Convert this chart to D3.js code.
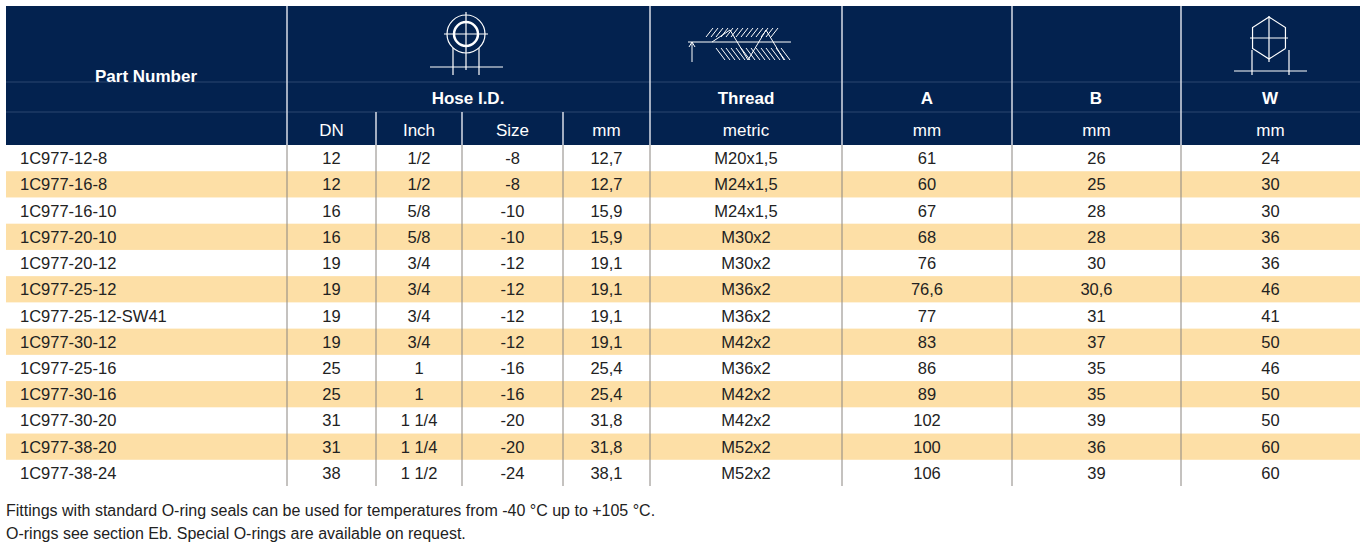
<!DOCTYPE html>
<html><head><meta charset="utf-8">
<script src="https://cdn.jsdelivr.net/npm/d3@7"></script>
<style>body{margin:0;background:#fff}text{font-family:"Liberation Sans",Arial,sans-serif}</style>
</head><body>
<svg id="c" width="1367" height="551"></svg>
<script>
// Table data
const partNumbers = ["1C977-12-8","1C977-16-8","1C977-16-10","1C977-20-10","1C977-20-12","1C977-25-12","1C977-25-12-SW41","1C977-30-12","1C977-25-16","1C977-30-16","1C977-30-20","1C977-38-20","1C977-38-24"];
const dn    = ["12","12","16","16","19","19","19","19","25","25","31","31","38"];
const inch  = ["1/2","1/2","5/8","5/8","3/4","3/4","3/4","3/4","1","1","1 1/4","1 1/4","1 1/2"];
const size  = ["-8","-8","-10","-10","-12","-12","-12","-12","-16","-16","-20","-20","-24"];
const mm    = ["12,7","12,7","15,9","15,9","19,1","19,1","19,1","19,1","25,4","25,4","31,8","31,8","38,1"];
const thread= ["M20x1,5","M24x1,5","M24x1,5","M30x2","M30x2","M36x2","M36x2","M42x2","M36x2","M42x2","M42x2","M52x2","M52x2"];
const colA  = ["61","60","67","68","76","76,6","77","83","86","89","102","100","106"];
const colB  = ["26","25","28","28","30","30,6","31","37","35","35","39","36","39"];
const colW  = ["24","30","30","36","36","46","41","50","46","50","50","60","60"];
const units = ["DN","Inch","Size","mm","metric","mm","mm","mm"];
const notes = ["Fittings with standard O-ring seals can be used for temperatures from -40 °C up to +105 °C.",
               "O-rings see section Eb. Special O-rings are available on request."];

const edges = [6,287,376,462,563,650,842,1012,1181,1360];
const navy = "#03224f", peach = "#fddfa6";
const svg = d3.select("#c");
const y = d3.scaleBand().domain(d3.range(partNumbers.length)).range([145,486]);
const cols = [partNumbers,dn,inch,size,mm,thread,colA,colB,colW];

// Header
svg.append("rect").attr("x",6).attr("y",6).attr("width",1354).attr("height",139).attr("fill",navy);
[82,112].forEach(v=>svg.append("line").attr("x1",6).attr("x2",1360).attr("y1",v).attr("y2",v)
  .attr("stroke","#2c4670").attr("stroke-width",1));
[287,650,842,1012,1181].forEach(x=>svg.append("line").attr("x1",x).attr("x2",x).attr("y1",6).attr("y2",145)
  .attr("stroke","#d8dde6").attr("stroke-width",1.5));
[376,462,563].forEach(x=>svg.append("line").attr("x1",x).attr("x2",x).attr("y1",112).attr("y2",145)
  .attr("stroke","#d8dde6").attr("stroke-width",1.5));
const hdr = (t,x,yy,bold)=>svg.append("text").attr("x",x).attr("y",yy).attr("text-anchor","middle")
  .attr("fill","#fff").attr("font-size",17).attr("font-weight",bold?"bold":"normal").text(t);
hdr("Part Number",146,82,true);
hdr("Hose I.D.",468,104,true);
hdr("Thread",746,104,true);
hdr("A",927,104,true); hdr("B",1096,104,true); hdr("W",1270,104,true);
units.forEach((u,i)=>hdr(u,(edges[i+1]+edges[i+2])/2,136,false));

// Icons
const ic = svg.append("g").attr("stroke","#fff").attr("fill","none").attr("stroke-width",1.2);
ic.append("circle").attr("cx",466).attr("cy",34).attr("r",19);
ic.append("circle").attr("cx",466).attr("cy",34).attr("r",12).attr("stroke-width",2.5);
ic.append("path").attr("d","M466,12V70M444,34H488M453,48V75M479,48V75M430,67H503");
const hx = svg.append("g").attr("stroke","#fff").attr("fill","none").attr("stroke-width",1.2);
hx.append("path").attr("d",d3.line()(d3.range(7).map(k=>[1269+19*Math.cos(Math.PI/6+k*Math.PI/3),38+21*Math.sin(Math.PI/6+k*Math.PI/3)])));
hx.append("path").attr("d","M1269,16V62M1250,38H1288M1252,50V75M1289,50V75M1234,71H1307");
const th = svg.append("g").attr("stroke","#fff").attr("fill","none").attr("stroke-width",1);
th.append("path").attr("d","M688,42H791M692,42V62M689,47L692,42L695,47M712,42L730,30L748,60L766,30L784,60");
d3.range(14).forEach(k=>th.append("line").attr("x1",713+k*5).attr("y1",28).attr("x2",706+k*5).attr("y2",37));
d3.range(14).forEach(k=>th.append("line").attr("x1",716+k*5).attr("y1",48).attr("x2",725+k*5).attr("y2",60));

// Body rows
partNumbers.forEach((p,i)=>{
  if(i%2===1) svg.append("rect").attr("x",6).attr("y",y(i)).attr("width",1354).attr("height",y.bandwidth()).attr("fill",peach);
});
edges.slice(1,-1).forEach(x=>svg.append("line").attr("x1",x).attr("x2",x).attr("y1",145).attr("y2",486)
  .attr("stroke","#8a8580").attr("stroke-width",1));
cols.forEach((arr,c)=>{
  svg.append("g").selectAll("text").data(arr).join("text")
    .attr("x",c===0?20:(edges[c]+edges[c+1])/2)
    .attr("y",(d,i)=>y(i)+y.bandwidth()/2+6)
    .attr("text-anchor",c===0?"start":"middle")
    .attr("font-size",16.5).attr("fill","#222").text(d=>d);
});
notes.forEach((n,i)=>svg.append("text").attr("x",6).attr("y",516+i*23).attr("font-size",16).attr("fill","#222").text(n));
</script>
</body></html>
